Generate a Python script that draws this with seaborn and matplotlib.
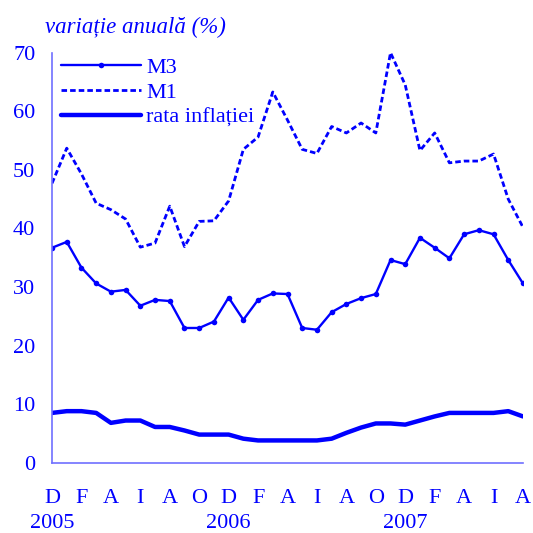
import pandas as pd
import numpy as np
import matplotlib
matplotlib.use("Agg")
import matplotlib.pyplot as plt
import seaborn as sns

# luni: dec 2004 ... aug 2007 (33 valori lunare)
luni = list(range(33))
m3 = [36.7, 37.7, 33.3, 30.6, 29.2, 29.5, 26.8, 27.8, 27.6, 23.0, 23.0,
      24.1, 28.2, 24.4, 27.8, 28.9, 28.8, 23.0, 22.7, 25.7, 27.1, 28.1,
      28.8, 34.6, 33.9, 38.4, 36.7, 34.9, 39.0, 39.7, 39.0, 34.6, 30.6]
m1 = [47.7, 53.7, 49.3, 44.3, 43.2, 41.6, 36.8, 37.5, 43.8, 36.9, 41.2,
      41.3, 44.7, 53.5, 55.6, 63.3, 58.5, 53.5, 52.8, 57.4, 56.3, 58.0,
      56.3, 70.0, 64.5, 53.3, 56.3, 51.2, 51.5, 51.5, 52.7, 45.0, 40.2]
inflatie = [8.5, 8.8, 8.8, 8.5, 6.8, 7.2, 7.2, 6.1, 6.1, 5.5, 4.8, 4.8,
            4.8, 4.1, 3.8, 3.8, 3.8, 3.8, 3.8, 4.1, 5.1, 6.0, 6.7, 6.7,
            6.5, 7.2, 7.9, 8.5, 8.5, 8.5, 8.5, 8.8, 7.9]

etichete_luni = ['D', 'F', 'A', 'I', 'A', 'O', 'D', 'F', 'A', 'I', 'A',
                 'O', 'D', 'F', 'A', 'I', 'A']
etichete_ani = {0: '2005', 12: '2006', 24: '2007'}

df = pd.DataFrame({'luna': luni, 'M3': m3, 'M1': m1, 'inflatie': inflatie})

albastru = '#0000ff'
axa = '#7070ff'

sns.set_style("white")
plt.rcParams['font.family'] = ['Liberation Serif', 'DejaVu Serif']

fig = plt.figure(figsize=(5.33, 5.33), dpi=100)
ax = fig.add_axes([0.0976, 0.1319, 0.8836, 0.7692])

sns.lineplot(data=df, x='luna', y='M3', ax=ax, color=albastru, lw=1.7,
             marker='o', markersize=4, markeredgewidth=0, label='M3')
sns.lineplot(data=df, x='luna', y='M1', ax=ax, color=albastru, lw=2.0,
             label='M1')
sns.lineplot(data=df, x='luna', y='inflatie', ax=ax, color=albastru, lw=3.2,
             label='rata inflației')
ax.lines[1].set_dashes((2.0, 1.1))

ax.set_xlim(0, 32)
ax.set_ylim(0, 70)
ax.set_yticks(range(0, 71, 10))
ax.set_xticks(luni)
etichete = []
for i in luni:
    if i % 2 == 0:
        t = etichete_luni[i // 2]
        if i in etichete_ani:
            t = t + '\n' + etichete_ani[i]
        etichete.append(t)
    else:
        etichete.append('')
ax.set_xticklabels(etichete, linespacing=1.45, va='top')
ax.set_xlabel('')
ax.set_ylabel('')

for s in ['top', 'right']:
    ax.spines[s].set_visible(False)
for s in ['left', 'bottom']:
    ax.spines[s].set_color(axa)
    ax.spines[s].set_linewidth(1.2)

ax.tick_params(axis='both', colors=axa, labelcolor=albastru, labelsize=16,
               direction='out', length=5, width=1.2)
ax.tick_params(axis='x', pad=14)
ax.tick_params(axis='y', pad=7)

ax.legend(loc='upper left', bbox_to_anchor=(0.0, 1.01), frameon=False,
          fontsize=16, labelcolor=albastru, handlelength=3.6,
          handletextpad=0.25, labelspacing=0.2, borderaxespad=0.0)

fig.text(0.084, 0.948, 'variație anuală (%)', color=albastru, fontsize=16.5,
         style='italic', ha='left', va='center')

plt.savefig('out.png', dpi=100)
